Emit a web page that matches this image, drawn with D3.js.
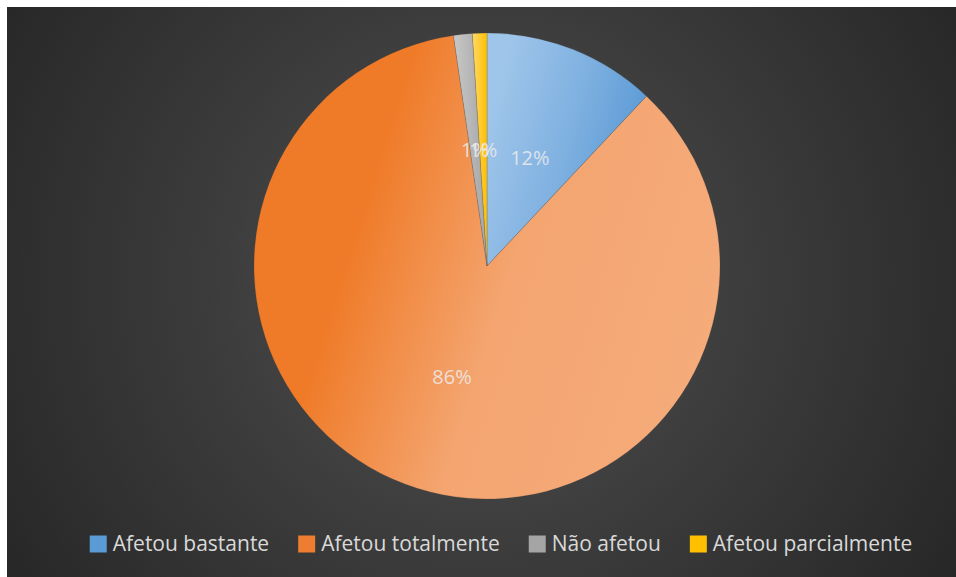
<!DOCTYPE html>
<html>
<head>
<meta charset="utf-8">
<script src="https://cdn.jsdelivr.net/npm/d3@7/dist/d3.min.js"></script>
<style>
  html, body { margin: 0; padding: 0; background: #ffffff; }
  svg { display: block; }
</style>
</head>
<body>
<svg id="chart" width="956" height="577"></svg>
<script>
// Shares of respondents per answer (percent)
const categories = ["Afetou bastante", "Afetou totalmente", "Não afetou", "Afetou parcialmente"];
const values = [12.0, 85.7, 1.3, 1.0];
// Light tint -> base colour for each slice's gradient
const lightColors = ["#9fc5ea", "#f5ab7a", "#c9c9c9", "#ffd966"];
const baseColors = ["#5596d3", "#ef7a27", "#a3a3a3", "#ffbf00"];
const legendSwatch = ["#5b9bd5", "#ed7d31", "#a5a5a5", "#ffc000"];

const svg = d3.select("#chart");
const W = 956, H = 577;
const cx = 487, cy = 266, R = 233;
const fontFam = "'Open Sans', 'Noto Sans', 'DejaVu Sans', sans-serif";

const defs = svg.append("defs");

// Chart area background: dark radial gradient
const bg = defs.append("radialGradient")
  .attr("id", "bgGrad")
  .attr("gradientUnits", "userSpaceOnUse")
  .attr("cx", 480).attr("cy", 280).attr("r", 600);
bg.append("stop").attr("offset", 0).attr("stop-color", "#525252");
bg.append("stop").attr("offset", 0.45).attr("stop-color", "#3c3c3c");
bg.append("stop").attr("offset", 1).attr("stop-color", "#242424");

svg.append("rect")
  .attr("x", 7).attr("y", 7)
  .attr("width", W - 7).attr("height", H - 7)
  .attr("fill", "url(#bgGrad)");

const total = d3.sum(values);
const pct = d3.format(".0%");

const pie = d3.pie().sort(null).value(d => d.value).startAngle(0).endAngle(2 * Math.PI);
const data = categories.map((c, i) => ({ cat: c, value: values[i], i }));
const arcs = pie(data);

const arc = d3.arc().innerRadius(0).outerRadius(R);
const labelArc = d3.arc().innerRadius(R * 0.5).outerRadius(R * 0.5);

// Stop profiles: [offset, mix toward base colour]
const profileSoft = [[0, 0], [0.5, 0.45], [1, 1]];
const profileWide = [[0, 0], [0.45, 0.12], [0.8, 1], [1, 1]];

// Per-slice linear gradient, rotated with the slice's mid-angle
arcs.forEach(a => {
  const mid = (a.startAngle + a.endAngle) / 2 * 180 / Math.PI;
  const g = defs.append("linearGradient")
    .attr("id", "slice" + a.data.i)
    .attr("x1", 0).attr("y1", 0.5).attr("x2", 1).attr("y2", 0.5)
    .attr("gradientTransform", `rotate(${mid}, 0.5, 0.5)`);
  const mix = d3.interpolateRgb(lightColors[a.data.i], baseColors[a.data.i]);
  const prof = a.data.i === 1 ? profileWide : profileSoft;
  prof.forEach(([o, t]) => g.append("stop").attr("offset", o).attr("stop-color", mix(t)));
});

const gPie = svg.append("g").attr("transform", `translate(${cx},${cy})`);

gPie.selectAll("path.slice")
  .data(arcs)
  .join("path")
  .attr("class", "slice")
  .attr("d", arc)
  .attr("fill", d => `url(#slice${d.data.i})`)
  .attr("stroke", "rgba(60,60,60,0.3)")
  .attr("stroke-width", 0.6);

gPie.selectAll("text.lbl")
  .data(arcs)
  .join("text")
  .attr("class", "lbl")
  .attr("transform", d => `translate(${labelArc.centroid(d)})`)
  .attr("text-anchor", "middle")
  .attr("dy", "0.36em")
  .attr("font-family", fontFam)
  .attr("font-size", 20)
  .attr("fill", "#ececec")
  .attr("fill-opacity", 0.85)
  .text(d => pct(d.data.value / total));

// Legend along the bottom, centred
const legend = svg.append("g");
const sw = 17, gapText = 6, gapItem = 29, legendY = 544, legendCenter = 501;
const items = legend.selectAll("g.item")
  .data(categories)
  .join("g")
  .attr("class", "item");

items.append("rect")
  .attr("width", sw).attr("height", sw)
  .attr("y", legendY - sw / 2)
  .attr("fill", (d, i) => legendSwatch[i]);

items.append("text")
  .attr("x", sw + gapText)
  .attr("y", legendY)
  .attr("dy", "0.35em")
  .attr("font-family", fontFam)
  .attr("font-size", 21)
  .attr("fill", "#d9d9d9")
  .text(d => d);

const widths = [];
items.each(function () {
  widths.push(sw + gapText + d3.select(this).select("text").node().getComputedTextLength());
});
const totalW = d3.sum(widths) + gapItem * (widths.length - 1);
let x0 = legendCenter - totalW / 2;
items.attr("transform", (d, i) => {
  const t = `translate(${x0},0)`;
  x0 += widths[i] + gapItem;
  return t;
});
</script>
</body>
</html>
